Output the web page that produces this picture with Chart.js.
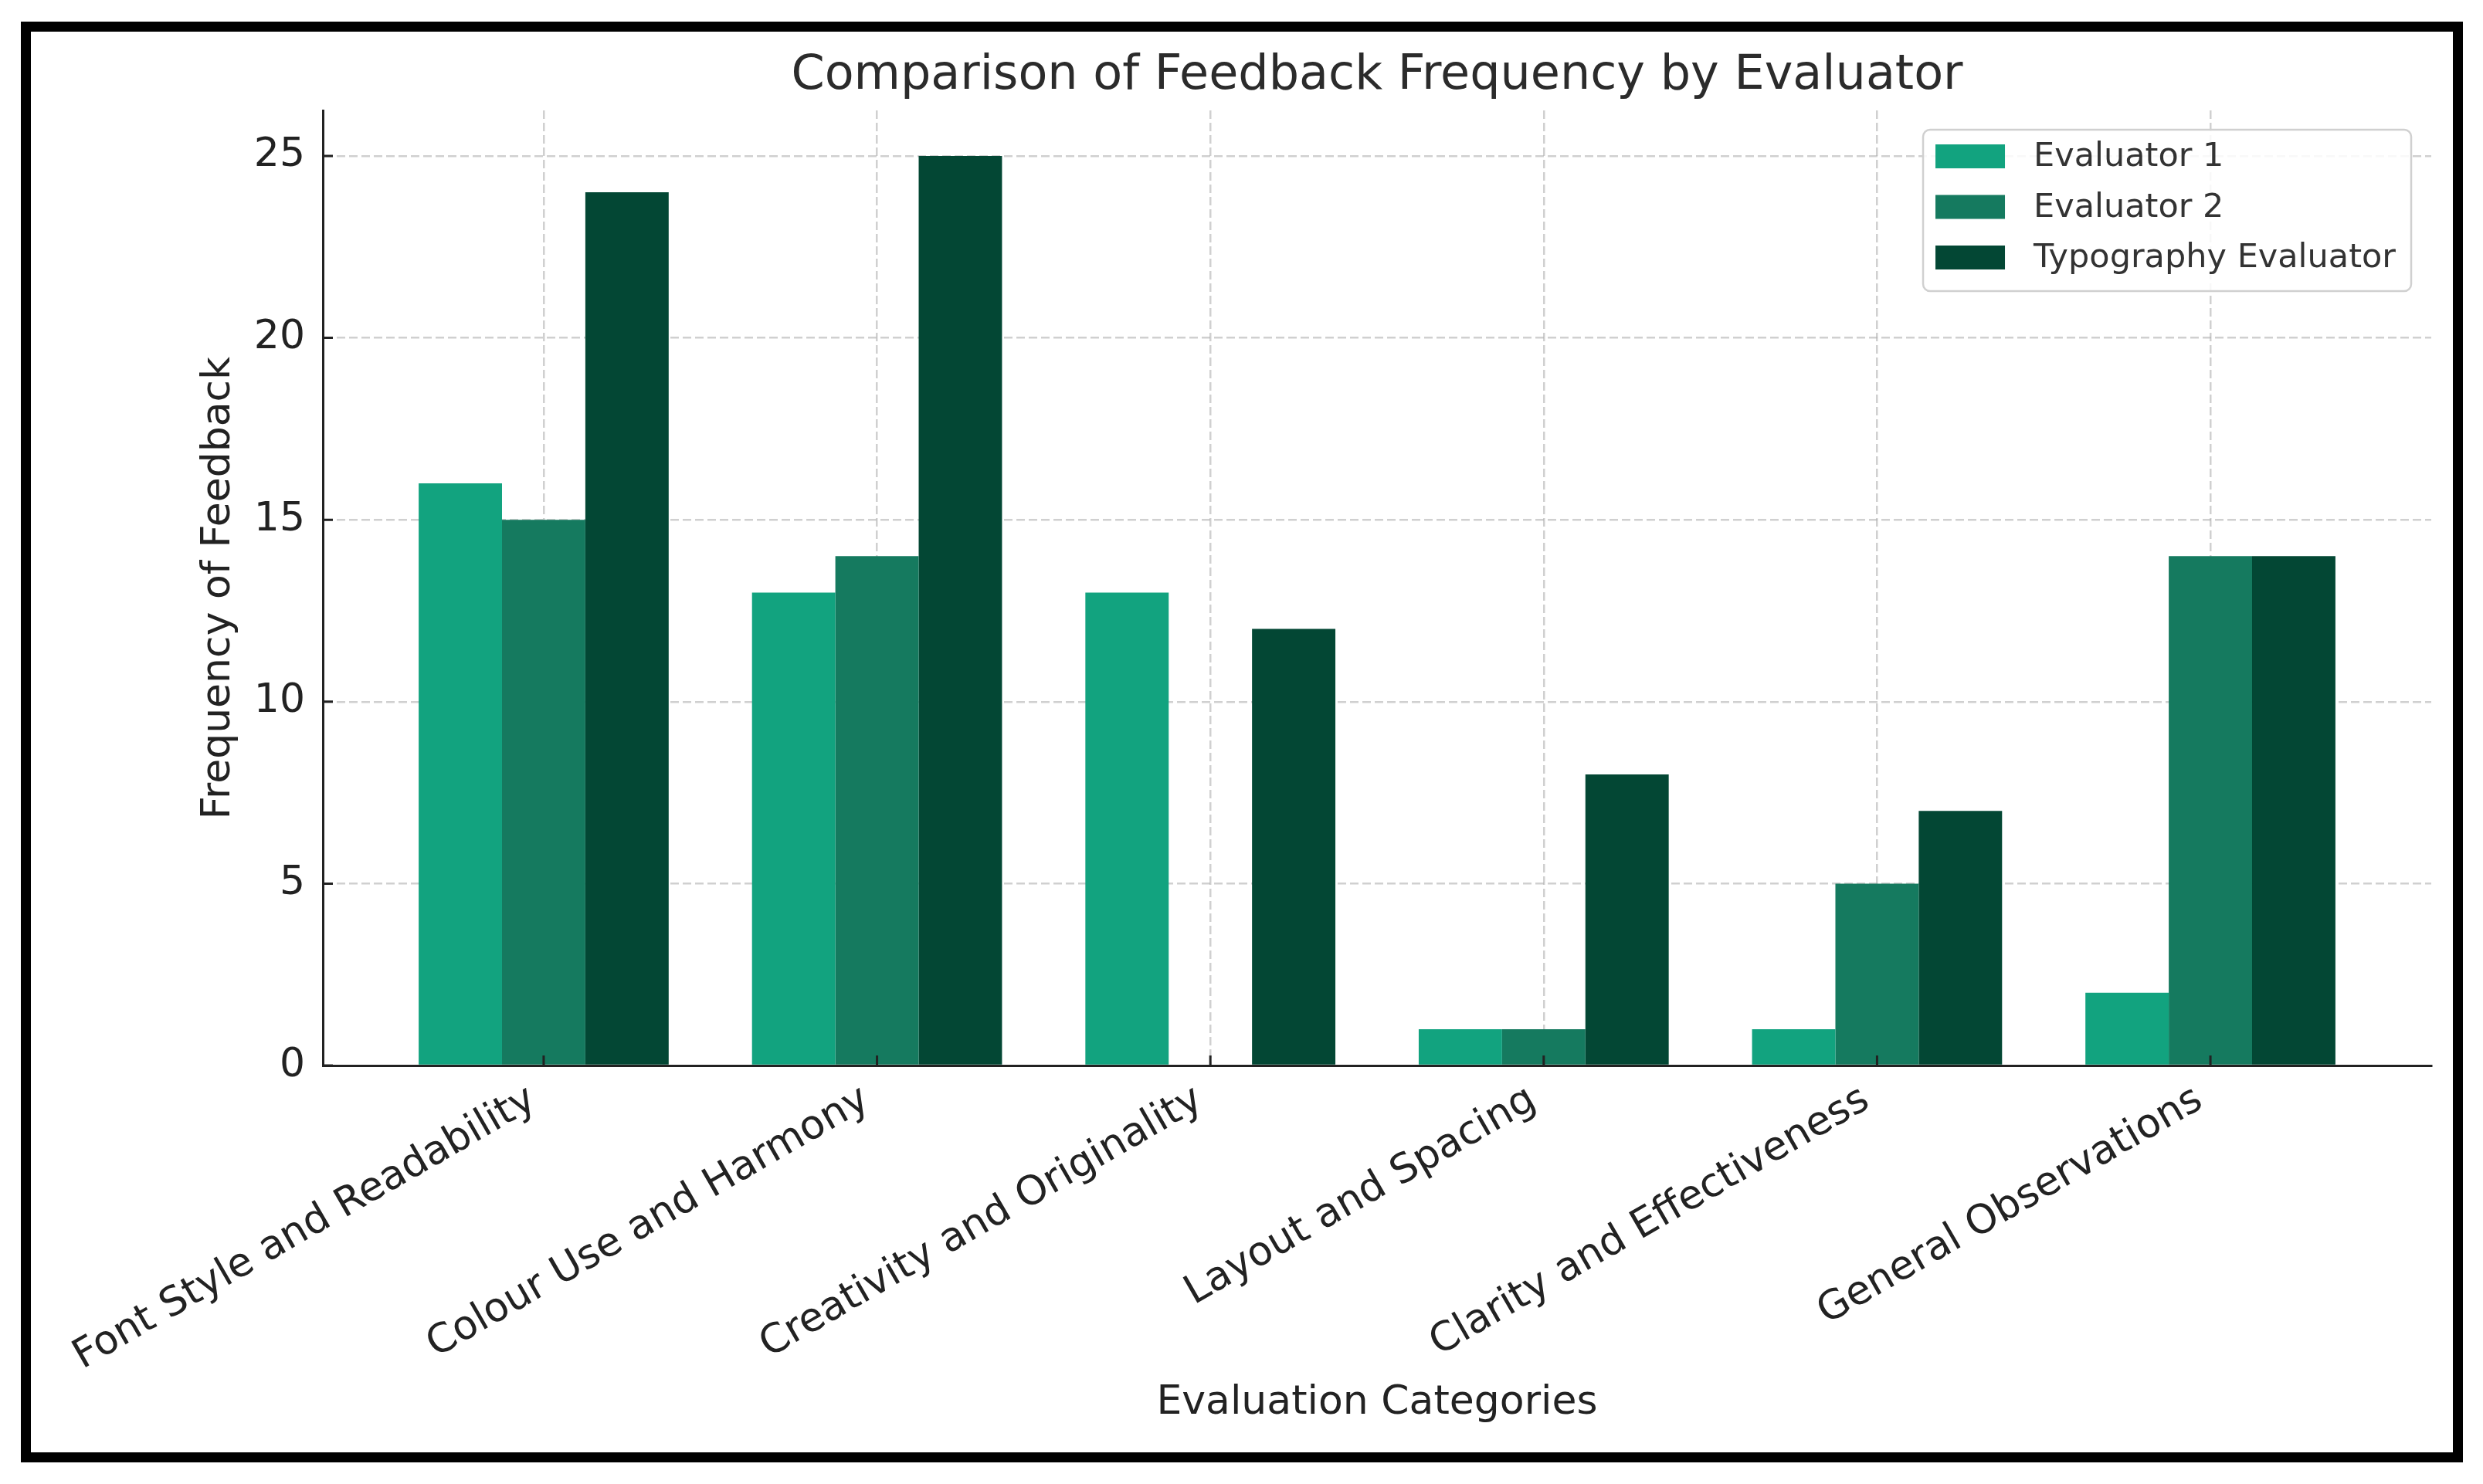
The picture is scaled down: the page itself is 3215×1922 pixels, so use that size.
<!DOCTYPE html>
<html>
<head>
<meta charset="utf-8">
<script src="https://cdn.jsdelivr.net/npm/chart.js@4"></script>
<style>
  html, body { margin: 0; padding: 0; background: #fff; }
  #frame {
    position: absolute; left: 27px; top: 28px; width: 3162px; height: 1866px;
    border: 13px solid #000; box-sizing: border-box;
  }
  #wrap { position: absolute; left: 0; top: 0; width: 3215px; height: 1922px; }
</style>
</head>
<body>
<div id="frame"></div>
<div id="wrap"><canvas id="feedbackChart"></canvas></div>
<script>
const chartTitle = 'Comparison of Feedback Frequency by Evaluator';
const categories = [
    'Font Style and Readability',
    'Colour Use and Harmony',
    'Creativity and Originality',
    'Layout and Spacing',
    'Clarity and Effectiveness',
    'General Observations'
];
const seriesNames = ['Evaluator 1', 'Evaluator 2', 'Typography Evaluator'];
const evaluator1 = [16, 13, 13, 1, 1, 2];
const evaluator2 = [15, 14, 0, 1, 5, 14];
const typographyEvaluator = [24, 25, 12, 8, 7, 14];
const seriesColors = ['#12a37f', '#157a5f', '#034734'];
const yTicks = [0, 5, 10, 15, 20, 25];

document.addEventListener('DOMContentLoaded', () => {
    const canvas = document.getElementById('feedbackChart');
    Chart.defaults.font.family = '"DejaVu Sans", sans-serif';

    const gridColor = 'rgba(176, 176, 176, 0.6)';
    const textColor = '#222';

    // title centred over the plot area
    const titlePlugin = {
        id: 'plotTitle',
        afterDraw(chart) {
            const {ctx, chartArea} = chart;
            ctx.save();
            ctx.font = '62px "DejaVu Sans"';
            ctx.fillStyle = '#2b2b2b';
            ctx.textAlign = 'center';
            ctx.textBaseline = 'alphabetic';
            ctx.fillText(chartTitle, (chartArea.left + chartArea.right) / 2, chartArea.top - 28);
            ctx.restore();
        }
    };

    // matplotlib style ticks pointing inward
    const innerTicks = {
        id: 'innerTicks',
        afterDraw(chart) {
            const {ctx, chartArea, scales} = chart;
            ctx.save();
            ctx.strokeStyle = textColor;
            ctx.lineWidth = 3;
            ctx.beginPath();
            yTicks.forEach(v => {
                const y = scales.y.getPixelForValue(v);
                ctx.moveTo(chartArea.left, y);
                ctx.lineTo(chartArea.left + 13, y);
            });
            categories.forEach((c, i) => {
                const x = scales.x.getPixelForValue(i);
                ctx.moveTo(x, chartArea.bottom);
                ctx.lineTo(x, chartArea.bottom - 13);
            });
            ctx.stroke();
            ctx.restore();
        }
    };

    // legend box in the upper right of the plot
    const innerLegend = {
        id: 'innerLegend',
        afterDraw(chart) {
            const {ctx, chartArea} = chart;
            const sets = chart.data.datasets;
            ctx.save();
            ctx.font = '43px "DejaVu Sans"';
            const textW = Math.max(...sets.map(d => ctx.measureText(d.label).width));
            const w = 16 + 90 + 37 + textW + 20;
            const h = 209;
            const left = chartArea.right - 26 - w;
            const top = chartArea.top + 25;

            ctx.beginPath();
            ctx.roundRect(left, top, w, h, 9);
            ctx.fillStyle = 'rgba(255,255,255,0.85)';
            ctx.fill();
            ctx.lineWidth = 2.5;
            ctx.strokeStyle = '#d0d0d0';
            ctx.stroke();

            sets.forEach((d, i) => {
                const cy = top + 34 + i * 65.5;
                ctx.fillStyle = d.backgroundColor;
                ctx.fillRect(left + 16, cy - 15, 90, 31);
                ctx.fillStyle = '#333';
                ctx.textAlign = 'left';
                ctx.textBaseline = 'middle';
                ctx.fillText(d.label, left + 16 + 90 + 37, cy + 2);
            });
            ctx.restore();
        }
    };

    const seriesValues = [evaluator1, evaluator2, typographyEvaluator];

    new Chart(canvas, {
        type: 'bar',
        data: {
            datasets: seriesNames.map((name, k) => ({
                label: name,
                data: seriesValues[k].map((v, i) => ({x: i, y: v})),
                backgroundColor: seriesColors[k],
                borderWidth: 0,
                categoryPercentage: 0.75,
                barPercentage: 1.0
            }))
        },
        options: {
            responsive: true,
            maintainAspectRatio: false,
            animation: false,
            devicePixelRatio: 1,
            layout: {padding: {left: 240, right: 67, top: 143, bottom: 60}},
            plugins: {
                legend: {display: false},
                tooltip: {enabled: false},
                title: {display: false}
            },
            scales: {
                x: {
                    type: 'linear',
                    min: -0.6625,
                    max: 5.6625,
                    offset: false,
                    z: 1,
                    afterBuildTicks: s => { s.ticks = categories.map((c, i) => ({value: i})); },
                    afterFit: s => { s.height = 482; },
                    ticks: {
                        autoSkip: false,
                        minRotation: 30,
                        maxRotation: 30,
                        padding: 14,
                        labelOffset: -14,
                        color: textColor,
                        font: {size: 52},
                        callback: v => categories[v]
                    },
                    grid: {offset: false, color: gridColor, lineWidth: 2.5, drawTicks: false},
                    border: {display: true, color: textColor, width: 3, dash: [11, 5]},
                    title: {
                        display: true,
                        text: 'Evaluation Categories',
                        color: textColor,
                        font: {size: 52},
                        padding: {top: 0, bottom: 13}
                    }
                },
                y: {
                    min: 0,
                    max: 26.25,
                    z: 1,
                    afterBuildTicks: s => { s.ticks = yTicks.map(v => ({value: v})); },
                    afterFit: s => { s.width = 178; },
                    ticks: {
                        padding: 23,
                        color: textColor,
                        font: {size: 52}
                    },
                    grid: {color: gridColor, lineWidth: 2.5, drawTicks: false},
                    border: {display: true, color: textColor, width: 3, dash: [11, 5]},
                    title: {
                        display: true,
                        text: 'Frequency of Feedback',
                        color: textColor,
                        font: {size: 52},
                        padding: {top: 12, bottom: 0}
                    }
                }
            }
        },
        plugins: [titlePlugin, innerTicks, innerLegend]
    });
});
</script>
</body>
</html>
